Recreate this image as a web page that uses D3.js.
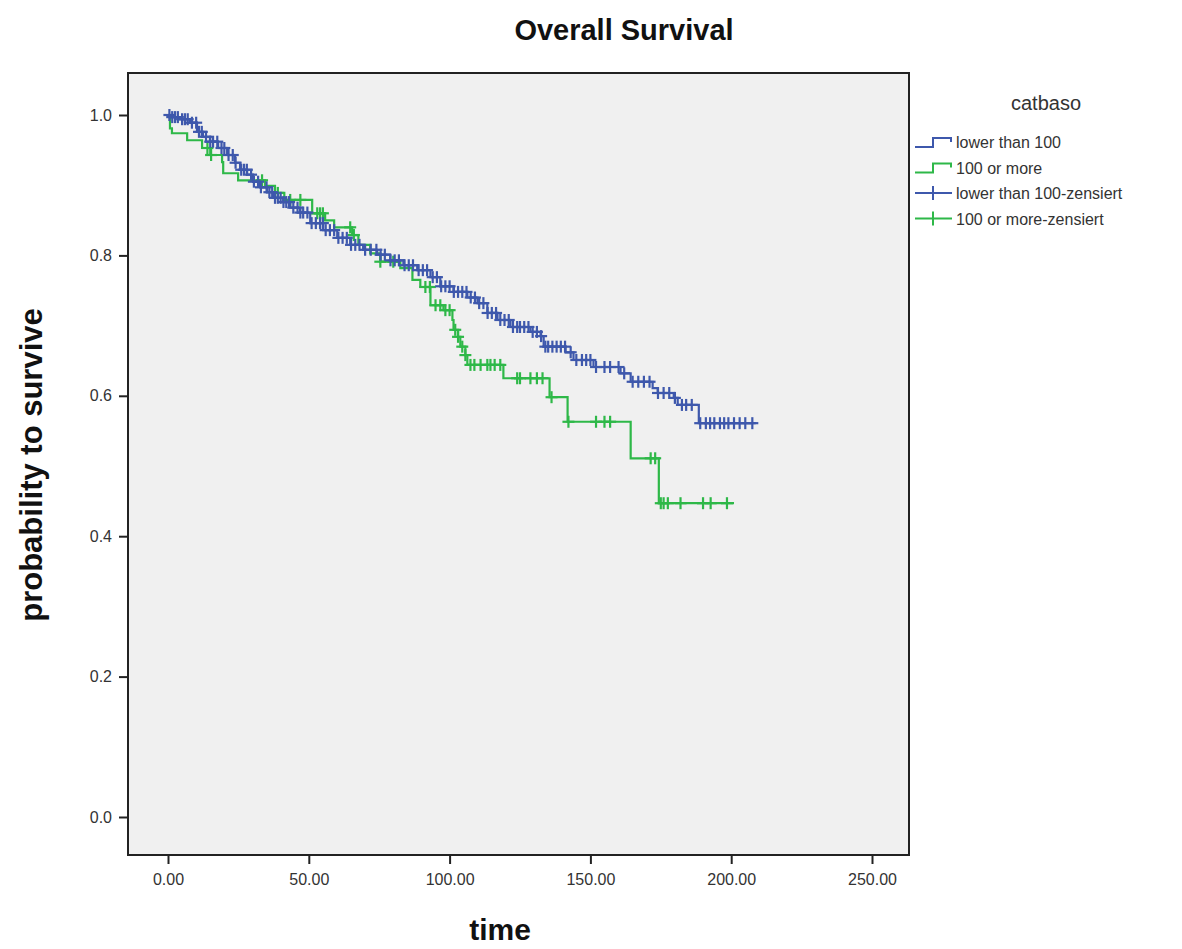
<!DOCTYPE html>
<html>
<head>
<meta charset="utf-8">
<script src="https://cdn.jsdelivr.net/npm/d3@7"></script>
<style>
  body { margin: 0; background: #fff; }
  svg { font-family: "Liberation Sans", Arial, sans-serif; }
</style>
</head>
<body>
<svg id="chart" width="1182" height="949"></svg>
<script>
// step curves: [time, survival]
const lowerSteps = [
  [0, 1.0], [0.7, 0.997], [4.3, 0.994], [7.8, 0.989], [10.3, 0.976], [12.4, 0.969],
  [14.9, 0.962], [17.8, 0.953], [21.0, 0.943], [23.8, 0.932], [25.6, 0.922],
  [28.1, 0.915], [30.2, 0.905], [32.7, 0.897], [35.2, 0.890], [37.3, 0.882],
  [40.9, 0.876], [43.4, 0.868], [46.9, 0.861], [50.5, 0.846], [55.1, 0.836],
  [60.1, 0.825], [64.7, 0.815], [69.3, 0.808], [74.3, 0.801], [78.9, 0.793],
  [83.6, 0.786], [88.5, 0.779], [93.2, 0.769], [96.7, 0.756], [101.4, 0.748],
  [106.3, 0.740], [109.9, 0.732], [113.4, 0.718], [117.0, 0.708], [121.6, 0.698],
  [128.7, 0.691], [132.3, 0.685], [133.4, 0.670], [141.2, 0.662], [144.0, 0.651],
  [151.1, 0.641], [160.7, 0.632], [164.3, 0.620], [172.1, 0.611], [173.9, 0.604],
  [179.6, 0.597], [181.0, 0.587], [188.5, 0.561]
];
const lowerEnd = 208.7;
const lowerCensored = [
  0.5, 1.5, 2.5, 3.5, 5, 6, 7, 8.5, 10, 11, 12, 13.5, 15, 16, 17.5, 19, 20, 21.5, 23,
  24, 26, 27, 28, 29.5, 30.5, 32, 33, 35, 36, 37, 38, 39, 40, 41, 42, 43, 44.5, 46,
  47, 48, 49.5, 51, 52.5, 54, 55, 56, 57.5, 59, 60.5, 62, 63.5, 65, 66.5, 68,
  70, 72, 74, 75.5, 77, 79, 80.5, 82, 84, 85.5, 87, 89, 90.5, 92, 94, 95.5, 97, 98.5,
  100, 101.5, 103, 104.5, 106, 107.5, 109, 110.5, 112, 113.5, 115, 116.5, 118, 119.5,
  121, 122.5, 124, 125, 126.5, 128, 129.5, 131, 132.5, 134, 135, 136.5, 138, 139.5,
  141, 143, 145, 147, 148.5, 150, 152, 155, 157, 160, 162, 165, 167, 169, 171, 174,
  176, 178, 180, 182.5, 184, 186, 189, 191, 192.5, 194, 196, 197.5, 199, 201, 203,
  205, 207.5
];

const moreSteps = [
  [0, 1.0], [0.7, 0.981], [1.4, 0.974], [6.8, 0.964], [12.1, 0.953], [15.0, 0.943],
  [19.2, 0.933], [19.6, 0.917], [24.9, 0.907], [34.5, 0.899], [38.0, 0.889],
  [41.3, 0.879], [51.2, 0.860], [55.8, 0.850], [59.0, 0.840], [65.4, 0.829],
  [67.6, 0.815], [71.8, 0.803], [75.4, 0.791], [82.5, 0.782], [86.8, 0.765],
  [89.6, 0.755], [93.2, 0.729], [97.8, 0.722], [101.0, 0.708], [101.4, 0.694],
  [103.0, 0.684], [103.8, 0.670], [105.6, 0.658], [106.3, 0.644], [119.1, 0.625],
  [135.5, 0.598], [141.9, 0.563], [164.3, 0.511], [174.3, 0.447]
];
const moreEnd = 201;
const moreCensored = [
  14, 15.3, 33.4, 39, 43.4, 47, 53, 54, 55, 64.7, 66, 75.4, 80, 91.4, 93, 95, 96.7,
  98.5, 100, 102, 103, 104.5, 105.6, 107.4, 108.8, 111, 113.4, 114.5, 116, 118, 124,
  125, 128.7, 131, 133, 136.2, 142.2, 152, 155, 157, 171.4, 173, 175, 176, 177.5,
  182, 190, 192.7, 198.5
];

const xTicks = [0, 50, 100, 150, 200, 250];
const yTicks = [0, 0.2, 0.4, 0.6, 0.8, 1.0];
const legendLabels = ['lower than 100', '100 or more', 'lower than 100-zensiert', '100 or more-zensiert'];

const blue = 'rgb(62,88,172)';
const green = 'rgb(46,184,72)';

const svg = d3.select('#chart');

const frame = { left: 128, right: 909, top: 73, bottom: 855 };
const x = d3.scaleLinear().domain([0, 250]).range([168, 872]);
const y = d3.scaleLinear().domain([0, 1]).range([817, 115]);

svg.append('rect')
  .attr('x', frame.left).attr('y', frame.top)
  .attr('width', frame.right - frame.left).attr('height', frame.bottom - frame.top)
  .attr('fill', '#f0f0f0');

const stepAt = (steps, t) => {
  let s = steps[0][1];
  for (const d of steps) { if (d[0] <= t) s = d[1]; }
  return s;
};

const drawCurve = (steps, end, censored, color) => {
  const pts = steps.concat([[end, steps[steps.length - 1][1]]]);
  const line = d3.line().curve(d3.curveStepAfter).x(d => x(d[0])).y(d => y(d[1]));
  svg.append('path').datum(pts)
    .attr('d', line).attr('fill', 'none')
    .attr('stroke', color).attr('stroke-width', 2.2);

  const g = svg.append('g').attr('stroke', color).attr('stroke-width', 2.2);
  censored.forEach(t => {
    const cx = x(t), cy = y(stepAt(steps, t));
    g.append('line').attr('x1', cx - 6).attr('x2', cx + 6).attr('y1', cy).attr('y2', cy);
    g.append('line').attr('x1', cx).attr('x2', cx).attr('y1', cy - 6).attr('y2', cy + 6);
  });
};

drawCurve(moreSteps, moreEnd, moreCensored, green);
drawCurve(lowerSteps, lowerEnd, lowerCensored, blue);

svg.append('rect')
  .attr('x', frame.left).attr('y', frame.top)
  .attr('width', frame.right - frame.left).attr('height', frame.bottom - frame.top)
  .attr('fill', 'none').attr('stroke', '#222').attr('stroke-width', 2);

// axes
const xAxis = d3.axisBottom(x).tickValues(xTicks).tickFormat(d3.format('.2f'))
  .tickSize(9).tickSizeOuter(0);
const gx = svg.append('g').attr('transform', `translate(0,${frame.bottom})`).call(xAxis);
gx.select('.domain').remove();
gx.selectAll('line').attr('stroke', '#222').attr('stroke-width', 2);
gx.selectAll('text').attr('font-size', 16).attr('fill', '#333').attr('dy', '1.1em');

const yAxis = d3.axisLeft(y).tickValues(yTicks).tickFormat(d3.format('.1f'))
  .tickSize(9).tickSizeOuter(0);
const gy = svg.append('g').attr('transform', `translate(${frame.left},0)`).call(yAxis);
gy.select('.domain').remove();
gy.selectAll('line').attr('stroke', '#222').attr('stroke-width', 2);
gy.selectAll('text').attr('font-size', 16).attr('fill', '#333').attr('x', -16);

// titles
svg.append('text').attr('x', 624).attr('y', 40).attr('text-anchor', 'middle')
  .attr('font-size', 29).attr('font-weight', 'bold').attr('fill', '#111')
  .text('Overall Survival');
svg.append('text').attr('x', 500).attr('y', 940).attr('text-anchor', 'middle')
  .attr('font-size', 30).attr('font-weight', 'bold').attr('fill', '#111')
  .text('time');
svg.append('text').attr('transform', 'translate(42,465) rotate(-90)').attr('text-anchor', 'middle')
  .attr('font-size', 31).attr('font-weight', 'bold').attr('fill', '#111')
  .text('probability to survive');

// legend
const lg = svg.append('g');
lg.append('text').attr('x', 1046).attr('y', 110).attr('text-anchor', 'middle')
  .attr('font-size', 20).attr('fill', '#333').text('catbaso');
const legendColors = [blue, green, blue, green];
legendLabels.forEach((label, i) => {
  const cy = 142 + i * 25.5;
  const c = legendColors[i];
  if (i < 2) {
    lg.append('path')
      .attr('d', `M915,${cy + 5}H933V${cy - 4}H951V${cy}`)
      .attr('fill', 'none').attr('stroke', c).attr('stroke-width', 2);
  } else {
    lg.append('path')
      .attr('d', `M915,${cy}H952M933,${cy - 7}V${cy + 7}`)
      .attr('fill', 'none').attr('stroke', c).attr('stroke-width', 2);
  }
  lg.append('text').attr('x', 956).attr('y', cy + 6)
    .attr('font-size', 16).attr('fill', '#333').text(label);
});
</script>
</body>
</html>
